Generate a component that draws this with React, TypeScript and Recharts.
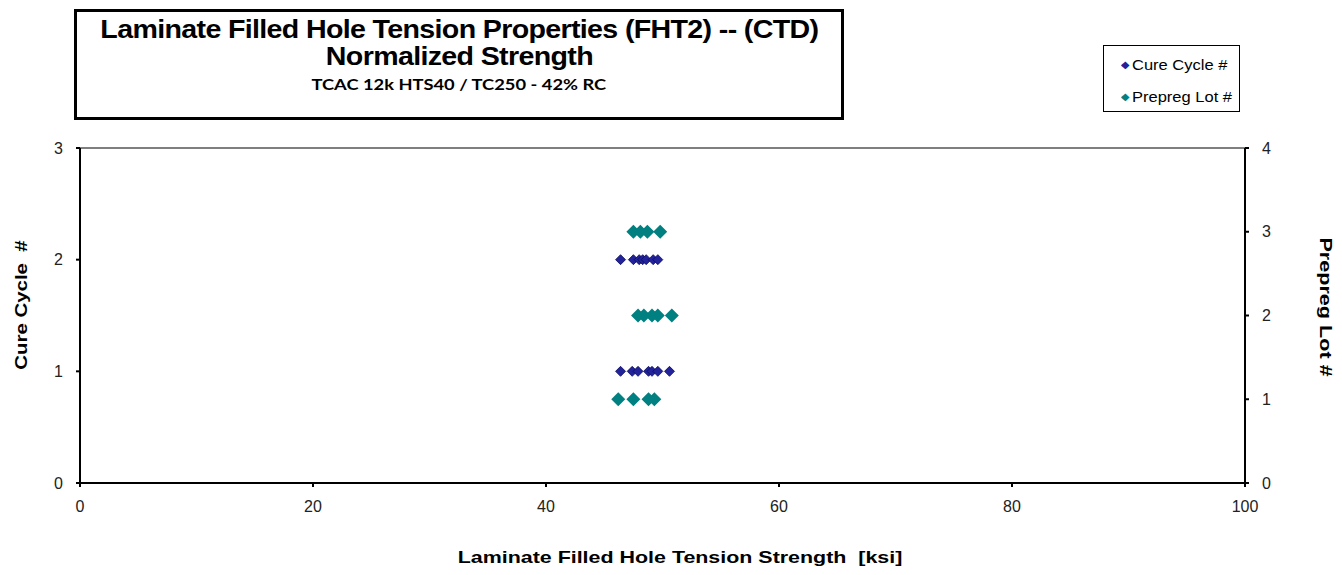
import React from 'react';
import {
  ScatterChart,
  Scatter,
  XAxis,
  YAxis,
  ReferenceLine,
} from 'recharts';

// strength values [ksi] read per row
const cureCycle1 = [46.4, 47.4, 47.9, 48.8, 49.1, 49.6, 50.6];
const cureCycle2 = [46.4, 47.5, 48.0, 48.3, 48.6, 49.2, 49.6];
const prepregLot1 = [46.2, 47.5, 48.8, 49.3];
const prepregLot2 = [47.9, 48.4, 49.1, 49.6, 50.8];
const prepregLot3 = [47.5, 48.1, 48.7, 49.8];

const xTicks = [0, 20, 40, 60, 80, 100];
const cureTicks = [0, 1, 2, 3];
const lotTicks = [0, 1, 2, 3, 4];

const cureData = [
  ...cureCycle1.map((x) => ({ x, y: 1 })),
  ...cureCycle2.map((x) => ({ x, y: 2 })),
];
const lotData = [
  ...prepregLot1.map((x) => ({ x, y: 1 })),
  ...prepregLot2.map((x) => ({ x, y: 2 })),
  ...prepregLot3.map((x) => ({ x, y: 3 })),
];

const CURE_COLOR = '#22229a';
const LOT_COLOR = '#008080';
const FONT = '"Liberation Sans", Arial, sans-serif';

const diamond = (half: number, fill: string, stroke?: string) => (props: any) => {
  const { cx, cy } = props;
  return (
    <polygon
      points={`${cx},${cy - half} ${cx + half},${cy} ${cx},${cy + half} ${cx - half},${cy}`}
      fill={fill}
      stroke={stroke || 'none'}
      strokeWidth={stroke ? 0.8 : 0}
    />
  );
};

const tickStyle = { fontSize: 16, fill: '#222', fontFamily: FONT };

// the source rendering is a bit wider than Liberation Sans
const Wide = ({ s, children }: { s: number; children: React.ReactNode }) => (
  <span style={{ display: 'inline-block', transform: `scaleX(${s})` }}>{children}</span>
);

export default function App() {
  return (
    <div style={{ position: 'absolute', left: 0, top: 0, width: 1342, height: 575, background: '#fff', fontFamily: FONT }}>
      <ScatterChart width={1342} height={575} margin={{ top: 148, right: 57, bottom: 62, left: 40 }}>
        <XAxis
          type="number"
          dataKey="x"
          domain={[0, 100]}
          ticks={xTicks}
          tick={tickStyle}
          tickSize={4}
          tickMargin={14}
          height={30}
          stroke="#000"
          strokeWidth={2}
        />
        <YAxis
          yAxisId="cure"
          type="number"
          dataKey="y"
          domain={[0, 3]}
          ticks={cureTicks}
          tick={tickStyle}
          tickSize={4}
          tickMargin={13}
          width={40}
          stroke="#000"
          strokeWidth={2}
        />
        <YAxis
          yAxisId="lot"
          orientation="right"
          type="number"
          dataKey="y"
          domain={[0, 4]}
          ticks={lotTicks}
          tick={tickStyle}
          tickSize={4}
          tickMargin={13}
          width={40}
          stroke="#000"
          strokeWidth={2}
        />
        <ReferenceLine yAxisId="cure" y={3} stroke="#555" strokeWidth={1.5} />
        <Scatter
          name="Cure Cycle #"
          data={cureData}
          yAxisId="cure"
          shape={diamond(5, CURE_COLOR, '#0a0a60')}
          isAnimationActive={false}
        />
        <Scatter
          name="Prepreg Lot #"
          data={lotData}
          yAxisId="lot"
          shape={diamond(7, LOT_COLOR)}
          isAnimationActive={false}
        />
      </ScatterChart>

      {/* title box */}
      <div
        style={{
          position: 'absolute',
          left: 74,
          top: 9,
          width: 764,
          height: 105,
          border: '3px solid #000',
          textAlign: 'center',
          color: '#000',
        }}
      >
        <div style={{ fontWeight: 700, fontSize: 26, letterSpacing: -0.6, marginTop: 4, lineHeight: '27px' }}>
          <Wide s={1.1}>Laminate Filled Hole Tension Properties (FHT2) -- (CTD)</Wide>
        </div>
        <div style={{ fontWeight: 700, fontSize: 26, letterSpacing: -0.6, lineHeight: '27px' }}>
          <Wide s={1.1}>Normalized Strength</Wide>
        </div>
        <div style={{ fontWeight: 700, fontSize: 15, fontFamily: 'Lato, sans-serif', marginTop: 5 }}>
          <Wide s={1.22}>TCAC 12k HTS40 / TC250 - 42% RC</Wide>
        </div>
      </div>

      {/* legend */}
      <div
        style={{
          position: 'absolute',
          left: 1103,
          top: 45,
          width: 135,
          height: 65,
          border: '1px solid #000',
          fontSize: 15,
          color: '#000',
        }}
      >
        <div style={{ position: 'absolute', left: 17, top: 10, whiteSpace: 'nowrap', transform: 'scaleX(1.1)', transformOrigin: 'left' }}>
          <span style={{ color: CURE_COLOR, fontSize: 10, marginRight: 2, verticalAlign: 2 }}>◆</span>Cure Cycle #
        </div>
        <div style={{ position: 'absolute', left: 17, top: 42, whiteSpace: 'nowrap', transform: 'scaleX(1.1)', transformOrigin: 'left' }}>
          <span style={{ color: LOT_COLOR, fontSize: 10, marginRight: 2, verticalAlign: 2 }}>◆</span>Prepreg Lot #
        </div>
      </div>

      {/* axis titles */}
      <div
        style={{
          position: 'absolute',
          left: 22,
          top: 305,
          transform: 'translate(-50%, -50%) rotate(-90deg) scaleX(1.2)',
          whiteSpace: 'nowrap',
          fontWeight: 700,
          fontSize: 17,
        }}
      >
        Cure Cycle&nbsp; #
      </div>
      <div
        style={{
          position: 'absolute',
          left: 1325,
          top: 307,
          transform: 'translate(-50%, -50%) rotate(90deg) scaleX(1.27)',
          whiteSpace: 'nowrap',
          fontWeight: 700,
          fontSize: 17,
        }}
      >
        Prepreg Lot #
      </div>
      <div
        style={{
          position: 'absolute',
          left: 680,
          top: 558,
          transform: 'translate(-50%, -50%) scaleX(1.26)',
          whiteSpace: 'nowrap',
          fontWeight: 700,
          fontSize: 17,
        }}
      >
        Laminate Filled Hole Tension Strength&nbsp; [ksi]
      </div>
    </div>
  );
}
